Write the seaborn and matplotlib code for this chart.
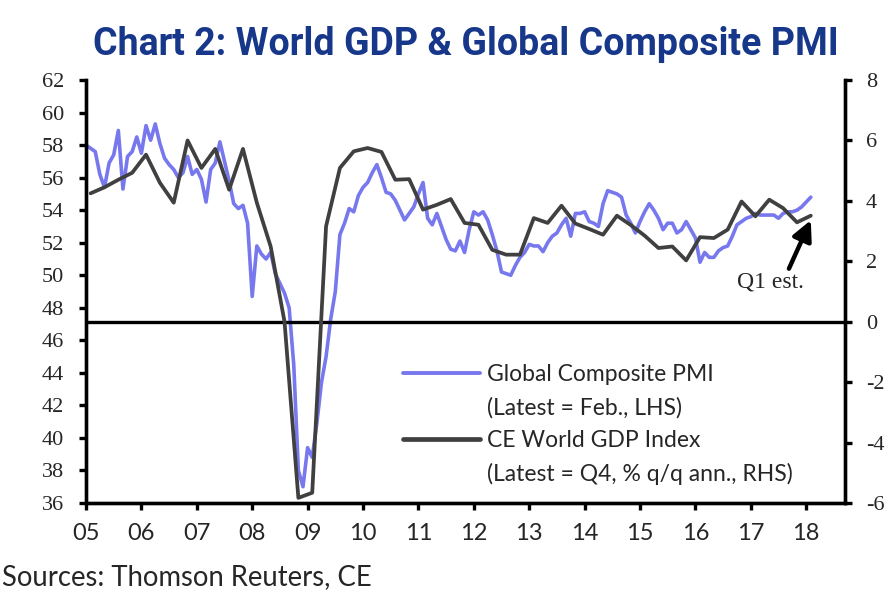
import numpy as np
import pandas as pd
import matplotlib
matplotlib.use("Agg")
import matplotlib.pyplot as plt
from matplotlib.lines import Line2D
import seaborn as sns

# Global composite PMI, monthly Jan 2005 - Feb 2018 (LHS)
pmi = [58.0, 57.8, 57.6, 56.2, 55.4, 56.9, 57.4, 58.9, 55.3, 57.3, 57.6, 58.5,
       57.5, 59.2, 58.3, 59.3, 58.1, 57.2, 56.8, 56.5, 56.0, 56.3, 57.3, 56.2,
       56.5, 55.9, 54.5, 56.5, 56.9, 58.2, 57.0, 55.8, 54.4, 54.1, 54.3, 53.2,
       48.7, 51.8, 51.3, 51.0, 51.4, 50.1, 49.5, 48.9, 48.0, 44.5, 38.0, 37.0,
       39.4, 38.8, 40.9, 43.4, 45.0, 47.3, 49.0, 52.5, 53.2, 54.1, 53.9, 54.9,
       55.4, 55.7, 56.3, 56.8, 56.0, 55.1, 55.0, 54.6, 54.0, 53.4, 53.8, 54.2,
       55.0, 55.7, 53.5, 53.1, 53.8, 53.0, 52.2, 51.6, 51.5, 52.1, 51.4, 52.8,
       53.9, 53.7, 53.9, 53.4, 52.5, 51.5, 50.2, 50.1, 50.0, 50.6, 51.1, 51.4,
       51.9, 51.8, 51.8, 51.45, 52.0, 52.4, 52.6, 53.1, 53.5, 52.4, 53.8, 53.8,
       53.9, 53.3, 53.2, 53.0, 54.4, 55.2, 55.1, 55.0, 54.8, 53.7, 53.2, 52.6,
       53.3, 53.9, 54.4, 54.0, 53.5, 52.8, 53.2, 53.2, 52.6, 52.8, 53.3, 52.8,
       52.3, 50.8, 51.4, 51.1, 51.1, 51.5, 51.7, 51.8, 52.4, 53.1, 53.3, 53.5,
       53.6, 53.8, 53.7, 53.7, 53.7, 53.7, 53.5, 53.8, 53.9, 53.9, 54.0, 54.2,
       54.5, 54.8]

# CE World GDP index, % q/q annualised, Q1 2005 - Q1 2018 est. (RHS)
gdp = [4.25, 4.45, 4.7, 4.93, 5.53, 4.6, 3.94, 6.0, 5.09, 5.72, 4.37, 5.72,
       3.94, 2.49, 0.0, -5.83, -5.66, 3.16, 5.09, 5.64, 5.75, 5.62, 4.70, 4.72,
       3.71, 3.87, 4.06, 3.27, 3.21, 2.38, 2.22, 2.22, 3.43, 3.27, 3.84, 3.25,
       3.07, 2.88, 3.51, 3.2, 2.85, 2.44, 2.49, 2.03, 2.80, 2.77, 3.05, 3.98,
       3.49, 4.04, 3.76, 3.29, 3.51]

years = list(range(2005, 2019))
year_labels = [f"{y % 100:02d}" for y in years]

pmi_df = pd.DataFrame({"date": 2005 + np.arange(len(pmi)) / 12, "pmi": pmi})
# quarterly points sit on the middle month of each quarter
gdp_df = pd.DataFrame({"date": 2005 + (3 * np.arange(len(gdp)) + 1) / 12, "gdp": gdp})

sns.set_style("ticks")
plt.rcParams["font.family"] = ["Lato", "DejaVu Sans"]
plt.rcParams["axes.unicode_minus"] = False

blue = "#7878EE"
dark = "#404040"
serif = ["Liberation Serif", "DejaVu Serif"]

fig = plt.figure(figsize=(8.95, 5.95), dpi=100)
ax = fig.add_axes([0.0961, 0.1546, 0.848, 0.7109])
ax2 = ax.twinx()

sns.lineplot(data=pmi_df, x="date", y="pmi", ax=ax, color=blue, lw=2.6)
ax2.axhline(0, color="black", lw=2.4, zorder=1)
sns.lineplot(data=gdp_df, x="date", y="gdp", ax=ax2, color=dark, lw=2.7, zorder=3)

ax.set_xlim(2005, 2018.7)
ax.set_ylim(36, 62)
ax2.set_ylim(-6, 8)
ax.set_yticks(range(36, 63, 2))
ax2.set_yticks(range(-6, 9, 2))
ax.set_xticks(years)
ax.set_xticklabels(year_labels)
ax.set_xlabel("")
ax.set_ylabel("")
ax2.set_ylabel("")

for a in (ax, ax2):
    for s in ("left", "right", "bottom"):
        a.spines[s].set_linewidth(2.4)
        a.spines[s].set_color("black")
    a.spines["top"].set_visible(False)
    a.tick_params(width=2.4, length=5, color="black")

ax.tick_params(axis="x", labelsize=17, pad=9.5)
ax.tick_params(axis="y", labelsize=16, pad=11)
ax2.tick_params(axis="y", labelsize=16, pad=10)
for lab in ax.get_yticklabels() + ax2.get_yticklabels():
    lab.set_family(serif)

# annotation for the estimate
ax2.annotate("Q1 est.", xy=(gdp_df["date"].iloc[-1], gdp[-1] - 0.15),
             xytext=(2017.36, 1.3), ha="center", va="center", fontsize=17,
             family=serif,
             arrowprops=dict(arrowstyle="-|>", color="black", lw=3.2,
                             mutation_scale=30, shrinkA=0, shrinkB=0,
                             relpos=(0.75, 1.0)))

# legend: series line on first row, note on second
handles = [Line2D([], [], color=blue, lw=2.8), Line2D([], [], color="none"),
           Line2D([], [], color=dark, lw=3.4), Line2D([], [], color="none")]
labels = ["Global Composite PMI", "(Latest = Feb., LHS)",
          "CE World GDP Index", "(Latest = Q4, % q/q ann., RHS)"]
ax2.legend(handles, labels, loc="upper left", bbox_to_anchor=(0.405, 0.35),
           frameon=False, fontsize=16.5, handlelength=3.4, handletextpad=0.3,
           labelspacing=0.52, borderaxespad=0)

fig.text(0.52, 0.925, "Chart 2: World GDP & Global Composite PMI",
         ha="center", va="center", fontsize=27, fontweight="bold",
         color="#17378A", family=["Roboto", "DejaVu Sans"])
fig.text(0.002, 0.03, "Sources: Thomson Reuters, CE", ha="left", va="center",
         fontsize=19.8)

fig.savefig("out.png", dpi=100)
